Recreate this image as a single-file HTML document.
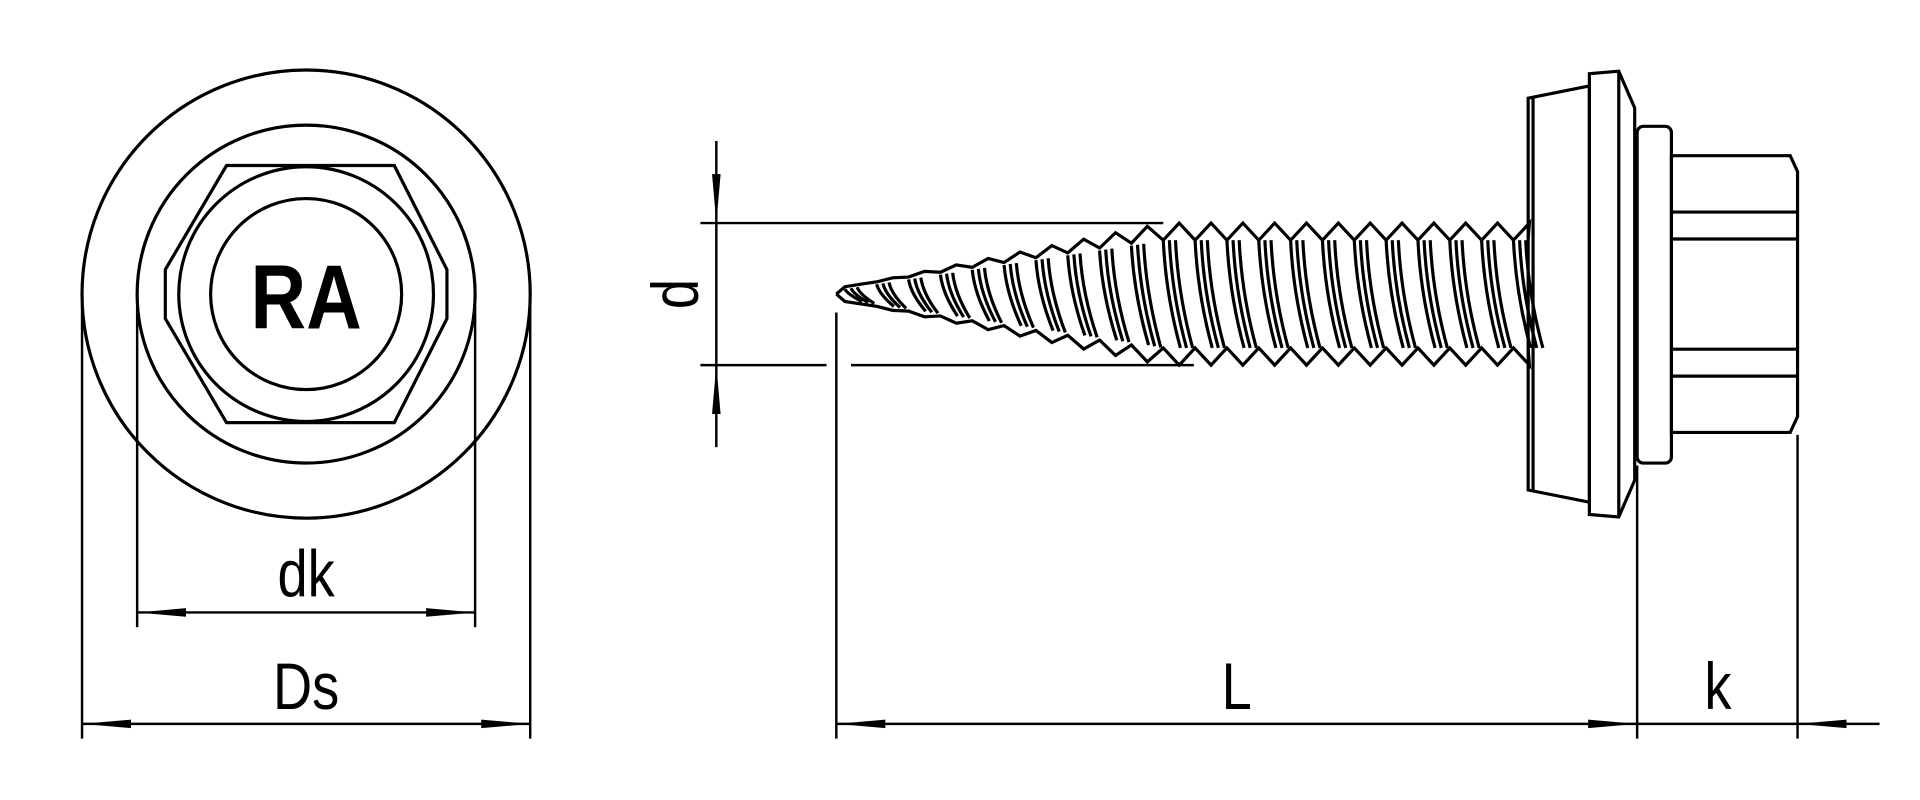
<!DOCTYPE html>
<html><head><meta charset="utf-8"><style>
html,body{margin:0;padding:0;background:#fff;width:1920px;height:800px;overflow:hidden}
svg{display:block}
text{font-family:"Liberation Sans",sans-serif;fill:#000}
</style></head><body>
<svg id="s" width="1920" height="800" viewBox="0 0 1568 653" xmlns="http://www.w3.org/2000/svg">
<defs>
<marker id="a" viewBox="0 0 40 10" refX="40" refY="5" markerWidth="40" markerHeight="10" markerUnits="userSpaceOnUse" orient="auto-start-reverse"><path d="M0,1.5 L40,5 L0,8.5 Z" fill="#000"/></marker>
</defs>
<g fill="none" stroke="#000" stroke-width="2.6">
<circle cx="250" cy="240" r="183"/>
<circle cx="250" cy="240" r="138"/>
<polygon points="185,135 322,135 365,220 365,260 322,345 185,345 135,260 135,220"/>
<circle cx="250" cy="240" r="104"/>
<circle cx="250" cy="240" r="78"/>
<g stroke-width="2">
<line x1="112" y1="250" x2="112" y2="512"/>
<line x1="388" y1="250" x2="388" y2="512"/>
<line x1="67" y1="250" x2="67" y2="603"/>
<line x1="433" y1="250" x2="433" y2="603"/>
<line x1="152" y1="500" x2="112" y2="500" marker-end="url(#a)"/>
<line x1="152" y1="500" x2="348" y2="500"/>
<line x1="348" y1="500" x2="388" y2="500" marker-end="url(#a)"/>
<line x1="107" y1="591" x2="67" y2="591" marker-end="url(#a)"/>
<line x1="107" y1="591" x2="393" y2="591"/>
<line x1="393" y1="591" x2="433" y2="591" marker-end="url(#a)"/>
<line x1="572" y1="182" x2="950" y2="182"/>
<line x1="572" y1="298" x2="675" y2="298"/>
<line x1="695" y1="298" x2="975" y2="298"/>
<line x1="585" y1="115" x2="585" y2="142"/>
<line x1="585" y1="142" x2="585" y2="182" marker-end="url(#a)"/>
<line x1="585" y1="182" x2="585" y2="298"/>
<line x1="585" y1="338" x2="585" y2="298" marker-end="url(#a)"/>
<line x1="585" y1="338" x2="585" y2="365"/>
<line x1="683" y1="255" x2="683" y2="603"/>
<line x1="1337" y1="380" x2="1337" y2="603"/>
<line x1="1468" y1="355" x2="1468" y2="603"/>
<line x1="723" y1="591" x2="683" y2="591" marker-end="url(#a)"/>
<line x1="723" y1="591" x2="1297" y2="591"/>
<line x1="1297" y1="591" x2="1337" y2="591" marker-end="url(#a)"/>
<line x1="1337" y1="591" x2="1468" y2="591"/>
<line x1="1535" y1="591" x2="1508" y2="591"/>
<line x1="1508" y1="591" x2="1468" y2="591" marker-end="url(#a)"/>
</g>
<polygon points="1248,80 1298,70 1298,410 1248,400" fill="#fff"/>
<line x1="1252" y1="80" x2="1252" y2="400"/>
<polygon points="1298,60 1322,58 1335,88 1335,392 1322,422 1298,420" fill="#fff"/>
<line x1="1322" y1="58" x2="1322" y2="422"/>
<rect x="1337" y="103" width="28" height="275" rx="5" fill="#fff"/>
<path d="M1365,127 L1462,127 L1468,140 L1468,340 L1462,353 L1365,353 Z" fill="#fff"/>
<line x1="1365" y1="173" x2="1468" y2="173"/>
<line x1="1365" y1="195" x2="1468" y2="195"/>
<line x1="1365" y1="285" x2="1468" y2="285"/>
<line x1="1365" y1="307" x2="1468" y2="307"/>
<g id="th"></g>
</g>
<text font-size="74" font-weight="bold" text-anchor="middle" transform="translate(250,268) scale(0.85,1)">RA</text>
<text font-size="54" text-anchor="middle" transform="translate(250,487) scale(0.82,1)">dk</text>
<text font-size="54" text-anchor="middle" transform="translate(250,579) scale(0.82,1)">Ds</text>
<text font-size="54" text-anchor="middle" transform="translate(1010,579) scale(0.82,1)">L</text>
<text font-size="54" text-anchor="middle" transform="translate(1403,579) scale(0.82,1)">k</text>
<text font-size="54" text-anchor="middle" transform="translate(570,240) rotate(-90) scale(0.82,1)">d</text>
</svg>
<script>
(function(){
var g=document.getElementById('th'),ns='http://www.w3.org/2000/svg';
function R(x){return x>=950?58:4+54*(x-683)/267;}
var p=26,top='M683,240',bot='M683,240',lines='';
for(var x=690;x<1246;x+=p){
 var xc=x+p/2;var r=R(xc),rr=Math.max(r-14,r*0.75);
 top+=' L'+x+','+(240-rr)+' L'+xc+','+(240-r);
 bot+=' L'+x+','+(240+rr)+' L'+xc+','+(240+r);
 for(var k=0;k<3;k++){
  var x0=x+k*5,x1=x0+14;
  var r0=R(x0),r1=R(x1);var a=Math.max(r0-14,r0*0.75),b=Math.max(r1-14,r1*0.75);
  lines+='M'+x0+','+(240-a)+' Q'+(x0+2)+',240 '+x1+','+(240+b)+' ';
 }
}
top+=' L1248,195';bot+=' L1248,285';
[top,bot,lines].forEach(function(d){var e=document.createElementNS(ns,'path');e.setAttribute('d',d);g.appendChild(e);});
})();
</script>
</body></html>
